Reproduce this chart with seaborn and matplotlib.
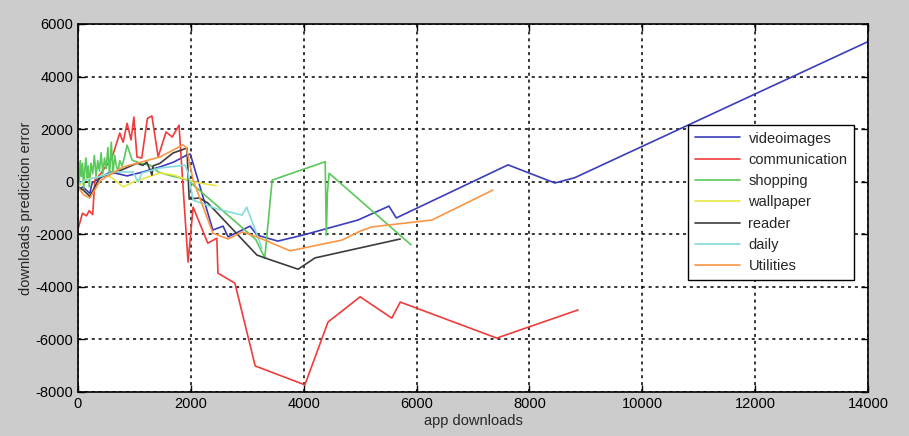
import numpy as np
import pandas as pd
import matplotlib
matplotlib.use("Agg")
import matplotlib.pyplot as plt
import seaborn as sns

categories = ["videoimages", "communication", "shopping", "wallpaper", "reader", "daily", "Utilities"]

videoimages_x = [0, 90, 210, 250, 570, 870, 1150, 1450, 1700, 1930, 1990, 2390, 2570, 2660, 3050, 3170, 3540, 3990, 4960, 5510, 5640, 7620, 8450, 8800, 14000]
videoimages_y = [-300, -200, -450, -50, 370, 220, 370, 560, 750, 1015, 1050, -1840, -1690, -2100, -1690, -2030, -2260, -2030, -1460, -930, -1380, 640, -50, 150, 5330]

communication_x = [0, 80, 150, 200, 260, 300, 400, 500, 600, 740, 800, 870, 940, 990, 1045, 1130, 1230, 1310, 1420, 1560, 1670, 1790, 1950, 2040, 2300, 2460, 2480, 2780, 3140, 4020, 4430, 5000, 5560, 5710, 7420, 8860]
communication_y = [-1800, -1200, -1300, -1100, -1250, 60, 300, 600, 900, 1850, 1500, 2220, 1590, 2460, 940, 900, 2410, 2500, 940, 1890, 1700, 2150, -3060, -970, -2340, -2150, -3480, -3860, -7010, -7730, -5340, -4380, -5190, -4580, -5950, -4880]

shopping_x = [0, 20, 40, 60, 80, 100, 120, 140, 160, 180, 200, 230, 260, 290, 320, 350, 380, 410, 440, 470, 500, 530, 560, 590, 620, 650, 680, 710, 740, 780, 820, 870, 960, 1100, 1280, 1420, 1600, 1800, 1950, 3150, 3310, 3440, 4380, 4400, 4420, 4450, 5900]
shopping_y = [600, -100, 800, 200, 700, -300, 500, 900, 100, 600, -200, 700, 300, 1000, 200, 800, 400, 1100, 300, 900, 500, 1300, 200, 1500, 300, 1000, 600, 400, 800, 600, 900, 1390, 820, 700, 630, 370, 250, 150, 50, -2200, -2900, 60, 760, -2030, -400, 320, -2400]

wallpaper_x = [0, 150, 300, 500, 600, 800, 1000, 1200, 1450, 1700, 1950, 2150, 2450]
wallpaper_y = [-200, 100, 150, 250, 150, -200, 0, 150, 330, 250, 60, -50, -150]

reader_x = [0, 90, 210, 390, 690, 1045, 1150, 1220, 1311, 1330, 1453, 1683, 1930, 1970, 2150, 2300, 3170, 3310, 3900, 4200, 5710]
reader_y = [-200, -310, -560, 180, 370, 700, 620, 750, 250, 600, 700, 1090, 1280, -660, -620, -810, -2790, -2900, -3330, -2900, -2180]

daily_x = [0, 124, 400, 656, 975, 1063, 1134, 1453, 1896, 1950, 2040, 2480, 2910, 2990, 3260]
daily_y = [-100, 60, 200, 370, 370, 0, 330, 520, 630, 350, -700, -1050, -1270, -970, -2530]

utilities_x = [0, 100, 210, 400, 800, 1453, 1860, 1920, 2040, 2390, 2660, 2910, 3170, 3760, 4680, 5000, 5210, 6270, 7350]
utilities_y = [-200, -500, -620, 50, 560, 940, 1400, 1300, 60, -1960, -2180, -1910, -2100, -2630, -2220, -1880, -1720, -1460, -320]

series_x = [videoimages_x, communication_x, shopping_x, wallpaper_x, reader_x, daily_x, utilities_x]
series_y = [videoimages_y, communication_y, shopping_y, wallpaper_y, reader_y, daily_y, utilities_y]

frames = []
for name, xs, ys in zip(categories, series_x, series_y):
    frames.append(pd.DataFrame({"app downloads": xs, "error": ys, "category": name}))
df = pd.concat(frames, ignore_index=True)

palette = {
    "videoimages": "#3c3cbc",
    "communication": "#f03c3c",
    "shopping": "#5ac85a",
    "wallpaper": "#e8e64a",
    "reader": "#3c3c3c",
    "daily": "#84dcdc",
    "Utilities": "#fa9646",
}

sns.set_style("white")
plt.rcParams["font.family"] = ["Liberation Sans", "DejaVu Sans"]
plt.rcParams["axes.unicode_minus"] = False

fig = plt.figure(figsize=(9.09, 4.36), dpi=100, facecolor="#cccccc")
ax = fig.add_axes([0.0858, 0.101, 0.8692, 0.844])
ax.set_facecolor("white")

sns.lineplot(data=df, x="app downloads", y="error", hue="category", hue_order=categories,
             palette=palette, sort=False, estimator=None, units="category", linewidth=1.2, ax=ax)

ax.set_xlim(0, 14000)
ax.set_ylim(-8000, 6000)
ax.set_xticks(np.arange(0, 14001, 2000))
ax.set_yticks(np.arange(-8000, 6001, 2000))
ax.grid(True, color="black", linestyle=(0, (2, 2.5)), linewidth=1.1)
for s in ax.spines.values():
    s.set_color("black")
    s.set_linewidth(1.2)
ax.tick_params(direction="in", length=5, width=1.0, colors="black", labelsize=10.5,
               top=True, right=True, bottom=True, left=True)
ax.set_xlabel("app downloads", fontsize=10.5, labelpad=2)
ax.set_ylabel("downloads prediction error", fontsize=10.5, labelpad=2)

leg = ax.legend(loc="upper left", bbox_to_anchor=(0.772, 0.7255), frameon=True, fancybox=False,
                edgecolor="black", framealpha=1, fontsize=10.5, handlelength=3.1,
                labelspacing=0.5, borderpad=0.45, handletextpad=0.6, borderaxespad=0)
leg.get_frame().set_linewidth(1.0)

fig.savefig("out.png", dpi=100, facecolor=fig.get_facecolor())
